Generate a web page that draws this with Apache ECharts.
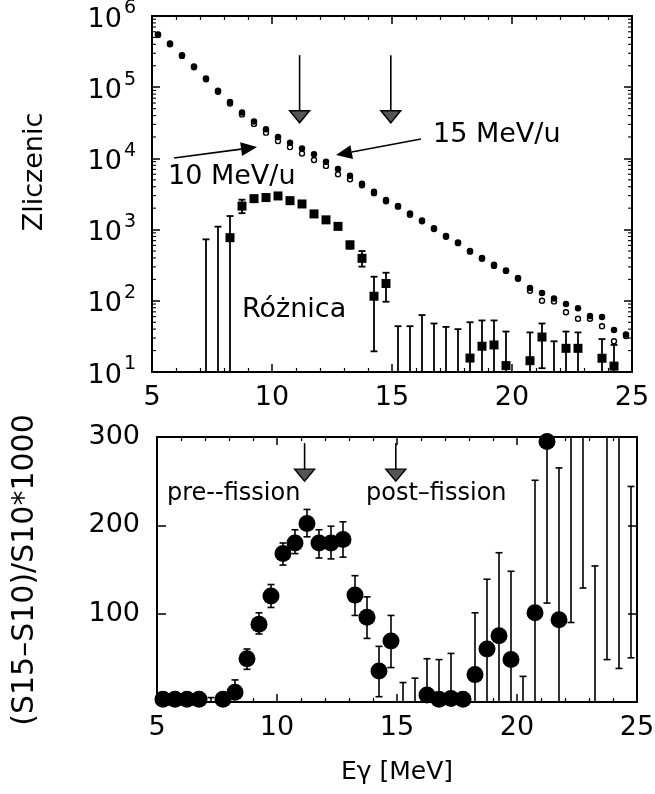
<!DOCTYPE html>
<html><head><meta charset="utf-8">
<script src="https://cdn.jsdelivr.net/npm/echarts/dist/echarts.min.js"></script>
<style>html,body{margin:0;padding:0;background:#fff}#c{width:655px;height:794px}</style>
</head><body><div id="c"></div>
<script>
// ---------- data ----------
const energy = [5.25,5.75,6.25,6.75,7.25,7.75,8.25,8.75,9.25,9.75,10.25,10.75,11.25,11.75,12.25,12.75,13.25,13.75,14.25,14.75,15.25,15.75,16.25,16.75,17.25,17.75,18.25,18.75,19.25,19.75,20.25,20.75,21.25,21.75,22.25,22.75,23.25,23.75,24.25,24.75];
// 15 MeV/u spectrum (filled dots)
const s15 = [550000,410000,280000,195000,132000,89000,62000,44000,33000,25700,20000,16600,13800,11400,9000,7100,5700,4400,3400,2600,2150,1680,1340,1045,815,660,500,398,321,266,209,151,129,108,90,78.5,61,59,39,33.6];
// 10 MeV/u spectrum (open dots)
const s10 = [540000,400000,275000,190000,129000,86000,59000,41500,30500,23000,17500,14400,11700,9500,7850,6000,5100,4200,3250,2500,2100,1620,1310,1020,795,645,490,390,309,263,204,138,100,98,69,56,56,44,27,32];
// difference (squares) with error bars; null lo = bar reaches the axis
const diffE  = [7.25,7.75,8.25,8.75,9.25,9.75,10.25,10.75,11.25,11.75,12.25,12.75,13.25,13.75,14.25,14.75,15.25,15.75,16.25,16.75,17.25,17.75,18.25,18.75,19.25,19.75,20.75,21.25,21.75,22.25,22.75,23.75,24.25];
const diffVal= [null,null,770,2140,2720,2820,2970,2550,2290,1660,1370,1110,610,395,116,175,null,null,null,null,null,null,15.7,23,24,12.3,14.4,31,null,21.5,21.5,15.6,12.1];
const diffHi = [730,1100,1550,2630,null,null,null,null,null,null,null,null,680,500,218,248,44,44,63,48,43,40,50,53,53,37,36,48,27,37,36,29,24];
const diffLo = [null,null,null,1700,null,null,null,null,null,null,null,null,540,302,19.5,97,null,null,null,null,null,null,null,null,null,null,null,11.3,null,null,null,null,null];
// ratio (S15-S10)/S10*1000, bottom panel
const ratioVal = [3,3,3,3,null,3,11,49,88,120,168,180,202,180,180,184,121,96,35,69,null,null,8,3,4,3,31,60,75,48,null,101,295,93,null,null,null,null,null,null];
const ratioHi  = [null,null,null,null,5,9,25,60,101,133,180,195,218,195,199,204,143,119,63,98,22,27,49,48,55,null,101,139,169,148,29,251,400,265,400,400,154,400,400,244];
const ratioLo  = [null,null,null,null,null,null,3,37,77,107,155,168,187,163,162,164,98,72,6,39,null,null,null,null,null,null,null,null,null,null,null,null,112,null,90,129,null,48,38,50];
// arrows (energies in MeV)
const arrowE = [11.15, 14.95];
const xTicks = [5,10,15,20,25];
const ratioTicks = [100,200,300];

// ---------- chart ----------
const FONT = 'DejaVu Sans';
const BLACK = '#000';
const chart = echarts.init(document.getElementById('c'));

function errSeries(xi, yi, E, lo, hi, axisMin, axisMax, capHalf, lw) {
  const data = [];
  E.forEach((e, i) => { if (hi[i] != null) data.push([e, lo[i] == null ? -1 : lo[i], hi[i]]); });
  return {
    type: 'custom', xAxisIndex: xi, yAxisIndex: yi, z: 2, silent: true,
    encode: { x: 0, y: 2 }, data,
    renderItem: (params, api) => {
      const cs = params.coordSys;
      const x = api.value(0), l = api.value(1), h = api.value(2);
      const px = api.coord([x, h])[0];
      let yH, yL, cH = true, cL = true;
      if (h >= axisMax) { yH = cs.y; cH = false; } else yH = api.coord([x, h])[1];
      if (!(l > axisMin)) { yL = cs.y + cs.height; cL = false; } else yL = api.coord([x, l])[1];
      const st = { stroke: BLACK, lineWidth: lw };
      const ch = [{ type: 'line', shape: { x1: px, y1: yL, x2: px, y2: yH }, style: st }];
      if (cH) ch.push({ type: 'line', shape: { x1: px - capHalf, y1: yH, x2: px + capHalf, y2: yH }, style: st });
      if (cL) ch.push({ type: 'line', shape: { x1: px - capHalf, y1: yL, x2: px + capHalf, y2: yL }, style: st });
      return { type: 'group', children: ch };
    }
  };
}

function arrowSeries(xi, yi, yStart, yTip) {
  return {
    type: 'custom', xAxisIndex: xi, yAxisIndex: yi, z: 4, silent: true,
    encode: { x: 0, y: 1 }, data: arrowE.map(e => [e, yTip]),
    renderItem: (params, api) => {
      const p0 = api.coord([api.value(0), yStart]);
      const p1 = api.coord([api.value(0), yTip]);
      const th = 12, hw = 10;
      return { type: 'group', children: [
        { type: 'line', shape: { x1: p0[0], y1: p0[1], x2: p1[0], y2: p1[1] - th }, style: { stroke: BLACK, lineWidth: 1.6 } },
        { type: 'polygon', shape: { points: [[p1[0] - hw, p1[1] - th], [p1[0] + hw, p1[1] - th], [p1[0], p1[1]]] },
          style: { fill: '#555', stroke: BLACK, lineWidth: 1.4 } }
      ]};
    }
  };
}

// minor tick positions on the log axis (2..9 x 10^n)
const logMinor = [];
for (let d = 1; d < 6; d++) for (let m = 2; m < 10; m++) logMinor.push([5, m * Math.pow(10, d)]);

const axisLineStyle = { color: BLACK, width: 2 };
function xAx(grid, pos, labels) {
  return {
    type: 'value', gridIndex: grid, position: pos, min: 5, max: 25, interval: 5,
    axisLine: { show: true, onZero: false, lineStyle: axisLineStyle },
    axisTick: { show: true, inside: true, length: 8, lineStyle: { color: BLACK, width: 1.5 } },
    minorTick: { show: true, splitNumber: 5, length: 4, lineStyle: { color: BLACK, width: 1.2 } },
    axisLabel: { show: labels, color: BLACK, fontFamily: FONT, fontSize: 27, margin: 12 },
    splitLine: { show: false }, minorSplitLine: { show: false }
  };
}

const option = {
  animation: false,
  backgroundColor: '#fff',
  grid: [
    { left: 152, top: 16, width: 480, height: 356, outerBoundsMode: 'none', containLabel: false },
    { left: 157, top: 437, width: 480, height: 265, outerBoundsMode: 'none', containLabel: false }
  ],
  xAxis: [xAx(0, 'bottom', true), xAx(0, 'top', false), xAx(1, 'bottom', true), xAx(1, 'top', false)],
  yAxis: [
    { type: 'log', logBase: 10, gridIndex: 0, position: 'left', min: 10, max: 1e6, splitNumber: 5,
      axisLine: { show: true, lineStyle: axisLineStyle },
      axisTick: { show: true, inside: true, length: 8, lineStyle: { color: BLACK, width: 1.5 } },
      minorTick: { show: false }, splitLine: { show: false },
      axisLabel: { margin: 16, formatter: v => '{b|10}{s|' + Math.round(Math.log10(v)) + '}',
        rich: { b: { fontSize: 27, fontFamily: FONT, color: BLACK, lineHeight: 34, verticalAlign: 'bottom' },
                s: { fontSize: 19, fontFamily: FONT, color: BLACK, lineHeight: 20, verticalAlign: 'top', padding: [0, 0, 0, 2] } } } },
    { type: 'log', logBase: 10, gridIndex: 0, position: 'right', min: 10, max: 1e6, splitNumber: 5,
      axisLine: { show: true, lineStyle: axisLineStyle },
      axisTick: { show: true, inside: true, length: 8, lineStyle: { color: BLACK, width: 1.5 } },
      minorTick: { show: false }, splitLine: { show: false }, axisLabel: { show: false } },
    { type: 'value', gridIndex: 1, position: 'left', min: 0, max: 300, interval: 100,
      axisLine: { show: true, onZero: false, lineStyle: axisLineStyle },
      axisTick: { show: true, inside: true, length: 9, lineStyle: { color: BLACK, width: 1.5 } },
      splitLine: { show: false },
      axisLabel: { margin: 17, color: BLACK, fontFamily: FONT, fontSize: 27, formatter: v => ratioTicks.includes(v) ? String(v) : '' } },
    { type: 'value', gridIndex: 1, position: 'right', min: 0, max: 300, interval: 100,
      axisLine: { show: true, onZero: false, lineStyle: axisLineStyle },
      axisTick: { show: true, inside: true, length: 9, lineStyle: { color: BLACK, width: 1.5 } },
      splitLine: { show: false }, axisLabel: { show: false } }
  ],
  series: [
    // log minor ticks (axis decoration)
    { type: 'custom', xAxisIndex: 0, yAxisIndex: 0, silent: true, z: 1, encode: { x: 0, y: 1 }, data: logMinor,
      renderItem: (params, api) => {
        const cs = params.coordSys; const y = api.coord([5, api.value(1)])[1];
        const st = { stroke: BLACK, lineWidth: 1.1 };
        return { type: 'group', children: [
          { type: 'line', shape: { x1: cs.x, y1: y, x2: cs.x + 4, y2: y }, style: st },
          { type: 'line', shape: { x1: cs.x + cs.width - 4, y1: y, x2: cs.x + cs.width, y2: y }, style: st } ] };
      } },
    { name: '10 MeV/u', type: 'scatter', xAxisIndex: 0, yAxisIndex: 0, z: 3, symbol: 'circle', symbolSize: 5,
      itemStyle: { color: '#fff', borderColor: BLACK, borderWidth: 1.4, opacity: 1 },
      data: energy.map((e, i) => [e, s10[i]]) },
    { name: '15 MeV/u', type: 'scatter', xAxisIndex: 0, yAxisIndex: 0, z: 3, symbol: 'circle', symbolSize: 6.5,
      itemStyle: { color: BLACK, opacity: 1 }, data: energy.map((e, i) => [e, s15[i]]) },
    errSeries(0, 0, diffE, diffLo, diffHi, 10, 1e6, 3.5, 1.8),
    { name: 'Różnica', type: 'scatter', xAxisIndex: 0, yAxisIndex: 0, z: 3, symbol: 'rect', symbolSize: 9,
      itemStyle: { color: BLACK, opacity: 1 },
      data: diffE.map((e, i) => diffVal[i] == null ? null : [e, diffVal[i]]).filter(d => d) },
    arrowSeries(0, 0, Math.pow(10, 5.45), Math.pow(10, 4.5)),
    errSeries(2, 2, energy, ratioLo, ratioHi, 0, 300, 3.5, 1.6),
    { name: 'ratio', type: 'scatter', xAxisIndex: 2, yAxisIndex: 2, z: 3, symbol: 'circle', symbolSize: 17,
      itemStyle: { color: BLACK, opacity: 1 },
      data: energy.map((e, i) => ratioVal[i] == null ? null : [e, ratioVal[i]]).filter(d => d) },
    arrowSeries(2, 2, 293, 250)
  ],
  graphic: []
};

// annotations
function txt(t, x, y, size, align, rot) {
  return { type: 'text', x, y, rotation: rot || 0, z: 10, silent: true,
    style: { text: t, fill: BLACK, font: size + 'px "' + FONT + '"', fontSize: size, fontFamily: FONT,
      align: align, textAlign: align, verticalAlign: 'middle', textVerticalAlign: 'middle' } };
}
function slantArrow(x0, y0, x1, y1) {
  const dx = x1 - x0, dy = y1 - y0, L = Math.hypot(dx, dy), ux = dx / L, uy = dy / L;
  const hl = 16, hw = 7, bx = x1 - ux * hl, by = y1 - uy * hl;
  return [
    { type: 'line', z: 10, silent: true, shape: { x1: x0, y1: y0, x2: bx, y2: by }, style: { stroke: BLACK, lineWidth: 1.6 } },
    { type: 'polygon', z: 10, silent: true, shape: { points: [[x1, y1], [bx - uy * hw, by + ux * hw], [bx + uy * hw, by - ux * hw]] }, style: { fill: BLACK } }
  ];
}
option.graphic.push(
  txt('Zliczenic', 35, 172, 27, 'center', Math.PI / 2),
  txt('(S15\u2013S10)/S10*1000', 25, 570, 30, 'center', Math.PI / 2),
  txt('E\u03b3 [MeV]', 397, 772, 25, 'center'),
  txt('15 MeV/u', 433, 135, 27, 'left'),
  txt('10 MeV/u', 168, 177, 27, 'left'),
  txt('Różnica', 242, 310, 27, 'left'),
  txt('pre--fission', 167, 494, 24, 'left'),
  txt('post\u2013fission', 366, 494, 24, 'left'),
  ...slantArrow(174, 158, 257, 147),
  ...slantArrow(421, 139, 336, 155)
);

chart.setOption(option);
</script>
</body></html>
